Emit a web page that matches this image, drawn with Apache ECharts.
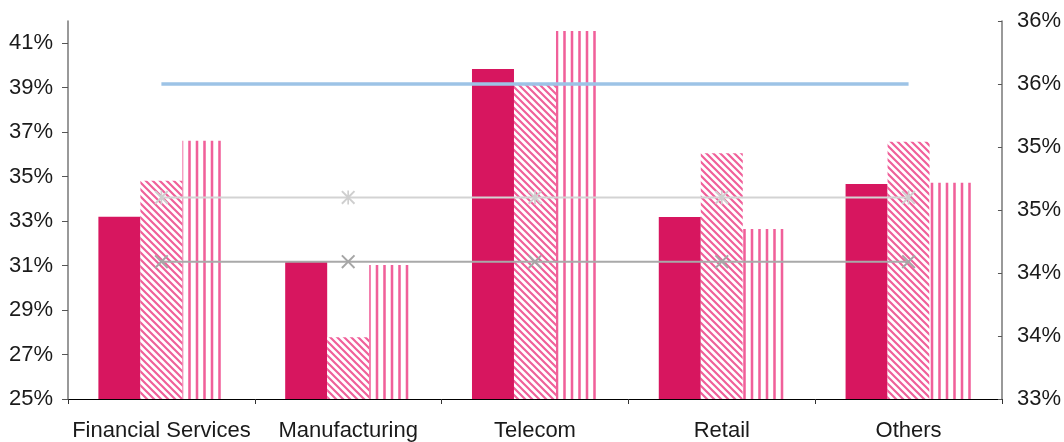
<!DOCTYPE html>
<html><head><meta charset="utf-8">
<script src="https://cdn.jsdelivr.net/npm/echarts@6/dist/echarts.min.js"></script>
<style>html,body{margin:0;padding:0;background:#fff}#c{width:1064px;height:442px}</style>
</head><body><div id="c"></div>
<script>
const categories = ['Financial Services', 'Manufacturing', 'Telecom', 'Retail', 'Others'];
const solidValues = [33.20, 31.16, 39.84, 33.19, 34.67];
const hatchValues = [34.81, 27.78, 39.12, 36.05, 36.57];
const stripeValues = [36.61, 31.03, 41.55, 32.65, 34.73];
const blueLine = [35.5, 35.5, 35.5, 35.5, 35.5];
const lightGrayLine = [34.6, 34.6, 34.6, 34.6, 34.6];
const darkGrayLine = [34.09, 34.09, 34.09, 34.09, 34.09];
const leftTicks = [25, 27, 29, 31, 33, 35, 37, 39, 41];

const PINK = '#F0609A';
function hatchPattern() {
  const n = 7, c = document.createElement('canvas');
  c.width = n; c.height = n;
  const g = c.getContext('2d');
  g.fillStyle = '#fff'; g.fillRect(0, 0, n, n);
  g.strokeStyle = PINK; g.lineWidth = 2.2;
  g.beginPath();
  g.moveTo(-2, -2); g.lineTo(n + 2, n + 2);
  g.moveTo(-3, n - 3); g.lineTo(3, n + 3);
  g.moveTo(n - 3, -3); g.lineTo(n + 3, 3);
  g.stroke();
  return c;
}
function stripePattern() {
  const c = document.createElement('canvas');
  c.width = 15; c.height = 4;
  const g = c.getContext('2d');
  g.fillStyle = '#fff'; g.fillRect(0, 0, 15, 4);
  g.fillStyle = '#F8A8C8';
  g.fillRect(0.5, 0, 3, 4);
  g.fillRect(8, 0, 3, 4);
  g.fillStyle = PINK;
  g.fillRect(1, 0, 2, 4);
  g.fillRect(8.5, 0, 2, 4);
  return c;
}
const xMark = 'path://M1,0 L5,4 L9,0 L10,1 L6,5 L10,9 L9,10 L5,6 L1,10 L0,9 L4,5 L0,1 Z';
const starMark = 'path://M1,0 L5,4 L9,0 L10,1 L6,5 L10,9 L9,10 L5,6 L1,10 L0,9 L4,5 L0,1 Z M4.4,0 L5.6,0 L5.6,10 L4.4,10 Z';

const FONT = 'Liberation Sans';
const txt = { fontFamily: FONT, fontSize: 22, color: '#1a1a1a' };
const chart = echarts.init(document.getElementById('c'), null, { renderer: 'canvas' });
chart.setOption({
  animation: false,
  grid: { left: 68, right: 60, top: 21, bottom: 43, containLabel: false },
  xAxis: {
    type: 'category', data: categories,
    axisLine: { lineStyle: { color: '#000', width: 1 } },
    axisTick: { show: true, length: 5, lineStyle: { color: '#333' } },
    axisLabel: Object.assign({ margin: 21, interval: 0 }, txt),
    splitLine: { show: false }
  },
  yAxis: [{
    type: 'value', min: 25, max: 42, interval: 1,
    axisLine: { show: true, lineStyle: { color: '#777', width: 1.5 } },
    axisTick: { show: true, length: 6, customValues: leftTicks, lineStyle: { color: '#555' } },
    axisLabel: Object.assign({ margin: 15, customValues: leftTicks, formatter: v => v + '%' }, txt),
    splitLine: { show: false }
  }, {
    type: 'value', min: 33, max: 36, interval: 0.5, position: 'right',
    axisLine: { show: true, lineStyle: { color: '#777', width: 1.5 } },
    axisTick: { show: true, inside: true, length: 4, lineStyle: { color: '#555' } },
    axisLabel: Object.assign({ margin: 15, formatter: v => Math.round(v) + '%' }, txt),
    splitLine: { show: false }
  }],
  series: [
    { type: 'bar', yAxisIndex: 0, data: solidValues, barWidth: 42, barGap: 0,
      itemStyle: { color: '#D7165F' } },
    { type: 'bar', yAxisIndex: 0, data: hatchValues, barWidth: 42, barGap: 0,
      itemStyle: { color: { image: hatchPattern(), repeat: 'repeat' } } },
    { type: 'bar', yAxisIndex: 0, data: stripeValues, barWidth: 42, barGap: 0,
      itemStyle: { color: { image: stripePattern(), repeat: 'repeat' } } },
    { type: 'line', yAxisIndex: 1, data: blueLine, symbol: 'none',
      lineStyle: { color: '#9DC3E6', width: 3.5 }, z: 5 },
    { type: 'line', yAxisIndex: 1, data: lightGrayLine, symbol: starMark, symbolSize: 14,
      itemStyle: { color: '#CFCFCF' }, lineStyle: { color: '#D3D3D3', width: 2 }, z: 5 },
    { type: 'line', yAxisIndex: 1, data: darkGrayLine, symbol: xMark, symbolSize: 14,
      itemStyle: { color: '#A6A6A6' }, lineStyle: { color: '#A9A9A9', width: 2 }, z: 5 }
  ]
});
</script></body></html>
